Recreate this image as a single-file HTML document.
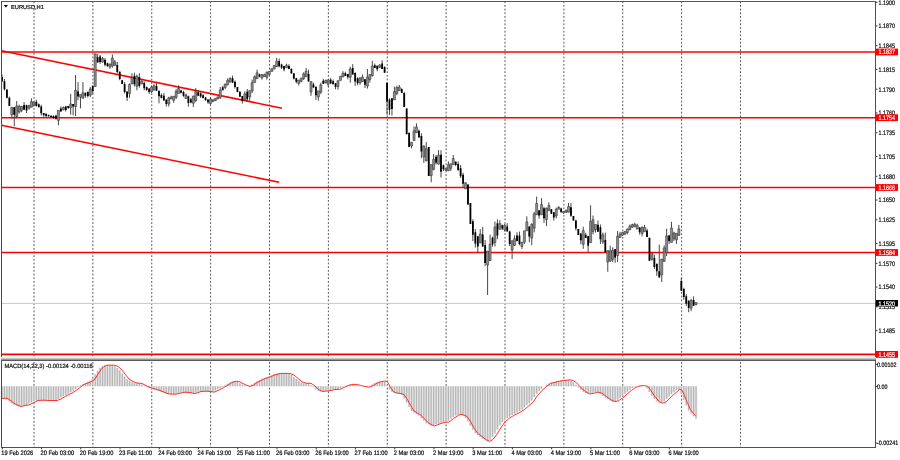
<!DOCTYPE html>
<html><head><meta charset="utf-8"><title>EURUSD,H1</title><style>html,body{margin:0;padding:0;background:#fff;overflow:hidden;width:900px;height:460px}svg{display:block}</style></head><body>
<svg width="900" height="460" viewBox="0 0 900 460" text-rendering="geometricPrecision"><rect width="900" height="460" fill="#fff"/><path d="M34 1.3V447M92.88 1.3V447M151.75 1.3V447M210.62 1.3V447M269.5 1.3V447M328.38 1.3V447M387.25 1.3V447M446.12 1.3V447M505 1.3V447M563.88 1.3V447M622.75 1.3V447M681.62 1.3V447M740.5 1.3V447" stroke="#555" stroke-width="1" stroke-dasharray="1.84 1.84" fill="none"/>
<path d="M2 386.3V398.34M4.45 386.3V398.21M6.91 386.3V399.61M9.36 386.3V401.51M11.81 386.3V403.29M14.26 386.3V404.82M16.71 386.3V405.81M19.17 386.3V406.35M21.62 386.3V405.73M24.07 386.3V405.31M26.53 386.3V405M28.98 386.3V403.79M31.43 386.3V402.56M33.88 386.3V401.33M36.34 386.3V400.45M38.79 386.3V400.31M41.24 386.3V400.23M43.69 386.3V400.33M46.15 386.3V400.44M48.6 386.3V400.5M51.05 386.3V400.5M53.5 386.3V400.5M55.96 386.3V399.97M58.41 386.3V399.05M60.86 386.3V397.61M63.31 386.3V396.14M65.77 386.3V394.89M68.22 386.3V393.67M70.67 386.3V392.3M73.12 386.3V390.77M75.58 386.3V388.98M78.03 386.3V387.14M80.48 386.3V385.3M82.93 386.3V383.95M85.39 386.3V382.96M87.84 386.3V381.86M90.29 386.3V380.63M92.74 386.3V378.68M95.2 386.3V374.59M97.65 386.3V370.85M100.1 386.3V367.95M102.55 386.3V366.06M105.01 386.3V365.2M107.46 386.3V365.2M109.91 386.3V365.2M112.36 386.3V365.2M114.82 386.3V366.18M117.27 386.3V367.93M119.72 386.3V370.47M122.17 386.3V373.53M124.62 386.3V376.6M127.08 386.3V379.33M129.53 386.3V380.86M131.98 386.3V382.04M134.44 386.3V382.96M136.89 386.3V383.23M139.34 386.3V383.48M141.79 386.3V384.62M144.25 386.3V385.85M146.7 386.3V387.07M149.15 386.3V387.98M151.6 386.3V388.72M154.06 386.3V389.45M156.51 386.3V390.19M158.96 386.3V391.06M161.41 386.3V392.05M163.87 386.3V392.99M166.32 386.3V393.91M168.77 386.3V394.06M171.22 386.3V394.13M173.68 386.3V394.17M176.13 386.3V393.56M178.58 386.3V392.99M181.03 386.3V392.5M183.49 386.3V392.26M185.94 386.3V392.4M188.39 386.3V392.71M190.84 386.3V393.32M193.3 386.3V393.21M195.75 386.3V392.55M198.2 386.3V391.63M200.65 386.3V391.37M203.11 386.3V391.23M205.56 386.3V391.32M208.01 386.3V391.47M210.46 386.3V391.95M212.92 386.3V391.62M215.37 386.3V390.58M217.82 386.3V389.36M220.27 386.3V388.14M222.73 386.3V386.69M225.18 386.3V385.22M227.63 386.3V383.7M230.08 386.3V382.33M232.54 386.3V381.53M234.99 386.3V381.34M237.44 386.3V381.95M239.89 386.3V383.17M242.34 386.3V384.4M244.8 386.3V385.57M249.7 386.3V385.73M252.16 386.3V384.29M254.61 386.3V382.47M257.06 386.3V381.24M259.51 386.3V380.02M261.97 386.3V378.79M264.42 386.3V377.94M266.87 386.3V377.2M269.32 386.3V376.22M271.78 386.3V375.14M274.23 386.3V374.36M276.68 386.3V373.73M279.13 386.3V373.44M281.59 386.3V373.34M284.04 386.3V373.36M286.49 386.3V373.46M288.94 386.3V374.02M291.4 386.3V374.94M293.85 386.3V377.01M296.3 386.3V379.12M298.75 386.3V381.14M301.21 386.3V382.38M303.66 386.3V383.2M306.11 386.3V383.25M308.56 386.3V383.31M311.02 386.3V384.97M313.47 386.3V386.92M315.92 386.3V389.37M318.37 386.3V390.68M320.82 386.3V391.47M323.28 386.3V391.16M325.73 386.3V390.85M328.18 386.3V390.55M330.63 386.3V389.98M333.09 386.3V389.48M335.54 386.3V389.38M337.99 386.3V389.09M340.44 386.3V387.95M342.9 386.3V386.85M345.35 386.3V385.79M347.8 386.3V385M350.25 386.3V384.37M352.71 386.3V384.4M355.16 386.3V384.56M357.61 386.3V385.24M360.06 386.3V385.89M364.97 386.3V386.87M367.42 386.3V386.89M369.88 386.3V386M372.33 386.3V384.56M374.78 386.3V383.11M377.23 386.3V382.2M379.69 386.3V381.45M382.14 386.3V381M384.59 386.3V381.54M387.04 386.3V385.58M389.5 386.3V389.39M391.95 386.3V391.95M394.4 386.3V393.04M396.85 386.3V393.32M399.31 386.3V393.79M401.76 386.3V394.76M404.21 386.3V398.4M406.66 386.3V402.62M409.12 386.3V406.96M411.57 386.3V410.98M414.02 386.3V412.54M416.47 386.3V414.05M418.93 386.3V415.6M421.38 386.3V418.2M423.83 386.3V420.68M426.28 386.3V423.14M428.74 386.3V424.42M431.19 386.3V425.63M433.64 386.3V425.34M436.09 386.3V424.37M438.55 386.3V423.51M441 386.3V422.8M443.45 386.3V422.2M445.9 386.3V422.2M448.36 386.3V420.68M450.81 386.3V418.83M453.26 386.3V417.13M455.71 386.3V415.44M458.17 386.3V414.67M460.62 386.3V414.77M463.07 386.3V415.69M465.52 386.3V417.93M467.98 386.3V421.44M470.43 386.3V425.78M472.88 386.3V429.83M475.33 386.3V433.34M477.79 386.3V435.19M480.24 386.3V437.04M482.69 386.3V438.88M485.14 386.3V440.36M487.6 386.3V441.15M490.05 386.3V439.71M492.5 386.3V436.87M494.95 386.3V433.47M497.41 386.3V429.51M499.86 386.3V425.59M502.31 386.3V422.37M504.76 386.3V420.02M507.22 386.3V417.9M509.67 386.3V416.44M512.12 386.3V415.06M514.57 386.3V413.84M517.02 386.3V412.57M519.48 386.3V411.1M521.93 386.3V409.63M524.38 386.3V407.52M526.84 386.3V405.37M529.29 386.3V403.25M531.74 386.3V400.55M534.19 386.3V396.84M536.64 386.3V393.73M539.1 386.3V391M541.55 386.3V388.73M546.46 386.3V384.74M548.91 386.3V383.23M551.36 386.3V382.6M553.81 386.3V381.98M556.26 386.3V381.35M558.72 386.3V380.9M561.17 386.3V380.51M563.62 386.3V380.28M566.08 386.3V380.01M568.53 386.3V380.01M570.98 386.3V380.68M573.43 386.3V382.34M575.88 386.3V384.72M578.34 386.3V387.45M580.79 386.3V389.69M583.24 386.3V391.76M585.7 386.3V393.1M588.15 386.3V393.86M590.6 386.3V393.42M593.05 386.3V392.8M595.5 386.3V392.19M597.96 386.3V392.8M600.41 386.3V393.86M602.86 386.3V395.74M605.32 386.3V397.57M607.77 386.3V399.35M610.22 386.3V400.57M612.67 386.3V401.57M615.12 386.3V400.98M617.58 386.3V399.71M620.03 386.3V398.17M622.48 386.3V396.08M624.94 386.3V393.96M627.39 386.3V391.79M629.84 386.3V389.8M632.29 386.3V388.07M634.75 386.3V386.88M639.65 386.3V385.75M642.1 386.3V385.64M647.01 386.3V388.58M649.46 386.3V392.03M651.91 386.3V395.74M654.37 386.3V398.8M656.82 386.3V401.53M659.27 386.3V402.74M661.72 386.3V402.69M664.18 386.3V401.27M666.63 386.3V398.82M669.08 386.3V396.55M671.53 386.3V394.35M673.99 386.3V392.21M676.44 386.3V389.97M678.89 386.3V389.95M681.34 386.3V394.08M683.8 386.3V399.76M686.25 386.3V405.55M688.7 386.3V410.41M691.15 386.3V413.52M693.61 386.3V416.14M696.06 386.3V418.8" stroke="#e6e6e6" stroke-width="2.46" fill="none"/>
<path d="M2 386.3V398.34M4.45 386.3V398.21M6.91 386.3V399.61M9.36 386.3V401.51M11.81 386.3V403.29M14.26 386.3V404.82M16.71 386.3V405.81M19.17 386.3V406.35M21.62 386.3V405.73M24.07 386.3V405.31M26.53 386.3V405M28.98 386.3V403.79M31.43 386.3V402.56M33.88 386.3V401.33M36.34 386.3V400.45M38.79 386.3V400.31M41.24 386.3V400.23M43.69 386.3V400.33M46.15 386.3V400.44M48.6 386.3V400.5M51.05 386.3V400.5M53.5 386.3V400.5M55.96 386.3V399.97M58.41 386.3V399.05M60.86 386.3V397.61M63.31 386.3V396.14M65.77 386.3V394.89M68.22 386.3V393.67M70.67 386.3V392.3M73.12 386.3V390.77M75.58 386.3V388.98M78.03 386.3V387.14M80.48 386.3V385.3M82.93 386.3V383.95M85.39 386.3V382.96M87.84 386.3V381.86M90.29 386.3V380.63M92.74 386.3V378.68M95.2 386.3V374.59M97.65 386.3V370.85M100.1 386.3V367.95M102.55 386.3V366.06M105.01 386.3V365.2M107.46 386.3V365.2M109.91 386.3V365.2M112.36 386.3V365.2M114.82 386.3V366.18M117.27 386.3V367.93M119.72 386.3V370.47M122.17 386.3V373.53M124.62 386.3V376.6M127.08 386.3V379.33M129.53 386.3V380.86M131.98 386.3V382.04M134.44 386.3V382.96M136.89 386.3V383.23M139.34 386.3V383.48M141.79 386.3V384.62M144.25 386.3V385.85M146.7 386.3V387.07M149.15 386.3V387.98M151.6 386.3V388.72M154.06 386.3V389.45M156.51 386.3V390.19M158.96 386.3V391.06M161.41 386.3V392.05M163.87 386.3V392.99M166.32 386.3V393.91M168.77 386.3V394.06M171.22 386.3V394.13M173.68 386.3V394.17M176.13 386.3V393.56M178.58 386.3V392.99M181.03 386.3V392.5M183.49 386.3V392.26M185.94 386.3V392.4M188.39 386.3V392.71M190.84 386.3V393.32M193.3 386.3V393.21M195.75 386.3V392.55M198.2 386.3V391.63M200.65 386.3V391.37M203.11 386.3V391.23M205.56 386.3V391.32M208.01 386.3V391.47M210.46 386.3V391.95M212.92 386.3V391.62M215.37 386.3V390.58M217.82 386.3V389.36M220.27 386.3V388.14M222.73 386.3V386.69M225.18 386.3V385.22M227.63 386.3V383.7M230.08 386.3V382.33M232.54 386.3V381.53M234.99 386.3V381.34M237.44 386.3V381.95M239.89 386.3V383.17M242.34 386.3V384.4M244.8 386.3V385.57M249.7 386.3V385.73M252.16 386.3V384.29M254.61 386.3V382.47M257.06 386.3V381.24M259.51 386.3V380.02M261.97 386.3V378.79M264.42 386.3V377.94M266.87 386.3V377.2M269.32 386.3V376.22M271.78 386.3V375.14M274.23 386.3V374.36M276.68 386.3V373.73M279.13 386.3V373.44M281.59 386.3V373.34M284.04 386.3V373.36M286.49 386.3V373.46M288.94 386.3V374.02M291.4 386.3V374.94M293.85 386.3V377.01M296.3 386.3V379.12M298.75 386.3V381.14M301.21 386.3V382.38M303.66 386.3V383.2M306.11 386.3V383.25M308.56 386.3V383.31M311.02 386.3V384.97M313.47 386.3V386.92M315.92 386.3V389.37M318.37 386.3V390.68M320.82 386.3V391.47M323.28 386.3V391.16M325.73 386.3V390.85M328.18 386.3V390.55M330.63 386.3V389.98M333.09 386.3V389.48M335.54 386.3V389.38M337.99 386.3V389.09M340.44 386.3V387.95M342.9 386.3V386.85M345.35 386.3V385.79M347.8 386.3V385M350.25 386.3V384.37M352.71 386.3V384.4M355.16 386.3V384.56M357.61 386.3V385.24M360.06 386.3V385.89M364.97 386.3V386.87M367.42 386.3V386.89M369.88 386.3V386M372.33 386.3V384.56M374.78 386.3V383.11M377.23 386.3V382.2M379.69 386.3V381.45M382.14 386.3V381M384.59 386.3V381.54M387.04 386.3V385.58M389.5 386.3V389.39M391.95 386.3V391.95M394.4 386.3V393.04M396.85 386.3V393.32M399.31 386.3V393.79M401.76 386.3V394.76M404.21 386.3V398.4M406.66 386.3V402.62M409.12 386.3V406.96M411.57 386.3V410.98M414.02 386.3V412.54M416.47 386.3V414.05M418.93 386.3V415.6M421.38 386.3V418.2M423.83 386.3V420.68M426.28 386.3V423.14M428.74 386.3V424.42M431.19 386.3V425.63M433.64 386.3V425.34M436.09 386.3V424.37M438.55 386.3V423.51M441 386.3V422.8M443.45 386.3V422.2M445.9 386.3V422.2M448.36 386.3V420.68M450.81 386.3V418.83M453.26 386.3V417.13M455.71 386.3V415.44M458.17 386.3V414.67M460.62 386.3V414.77M463.07 386.3V415.69M465.52 386.3V417.93M467.98 386.3V421.44M470.43 386.3V425.78M472.88 386.3V429.83M475.33 386.3V433.34M477.79 386.3V435.19M480.24 386.3V437.04M482.69 386.3V438.88M485.14 386.3V440.36M487.6 386.3V441.15M490.05 386.3V439.71M492.5 386.3V436.87M494.95 386.3V433.47M497.41 386.3V429.51M499.86 386.3V425.59M502.31 386.3V422.37M504.76 386.3V420.02M507.22 386.3V417.9M509.67 386.3V416.44M512.12 386.3V415.06M514.57 386.3V413.84M517.02 386.3V412.57M519.48 386.3V411.1M521.93 386.3V409.63M524.38 386.3V407.52M526.84 386.3V405.37M529.29 386.3V403.25M531.74 386.3V400.55M534.19 386.3V396.84M536.64 386.3V393.73M539.1 386.3V391M541.55 386.3V388.73M546.46 386.3V384.74M548.91 386.3V383.23M551.36 386.3V382.6M553.81 386.3V381.98M556.26 386.3V381.35M558.72 386.3V380.9M561.17 386.3V380.51M563.62 386.3V380.28M566.08 386.3V380.01M568.53 386.3V380.01M570.98 386.3V380.68M573.43 386.3V382.34M575.88 386.3V384.72M578.34 386.3V387.45M580.79 386.3V389.69M583.24 386.3V391.76M585.7 386.3V393.1M588.15 386.3V393.86M590.6 386.3V393.42M593.05 386.3V392.8M595.5 386.3V392.19M597.96 386.3V392.8M600.41 386.3V393.86M602.86 386.3V395.74M605.32 386.3V397.57M607.77 386.3V399.35M610.22 386.3V400.57M612.67 386.3V401.57M615.12 386.3V400.98M617.58 386.3V399.71M620.03 386.3V398.17M622.48 386.3V396.08M624.94 386.3V393.96M627.39 386.3V391.79M629.84 386.3V389.8M632.29 386.3V388.07M634.75 386.3V386.88M639.65 386.3V385.75M642.1 386.3V385.64M647.01 386.3V388.58M649.46 386.3V392.03M651.91 386.3V395.74M654.37 386.3V398.8M656.82 386.3V401.53M659.27 386.3V402.74M661.72 386.3V402.69M664.18 386.3V401.27M666.63 386.3V398.82M669.08 386.3V396.55M671.53 386.3V394.35M673.99 386.3V392.21M676.44 386.3V389.97M678.89 386.3V389.95M681.34 386.3V394.08M683.8 386.3V399.76M686.25 386.3V405.55M688.7 386.3V410.41M691.15 386.3V413.52M693.61 386.3V416.14M696.06 386.3V418.8" stroke="#b6b6b6" stroke-width="1.25" fill="none"/>
<path d="M1.5 398.5 L7 398.2 L10 400 L13 402.5 L17 405 L21 406.5 L25 405.5 L29 405 L33 403 L38 400.5 L43 400.2 L50 400.5 L57 400.5 L61 399 L66 396 L72 393 L76 390.5 L80 387.5 L84 384.5 L89 382.5 L93 380.5 L95 379 L98 374 L101 369.5 L104 366.5 L107 365.2 L111 365.2 L115 365.2 L118 366.5 L121 369 L125 374 L129 379 L133 381.5 L137 383 L142 383.5 L146 385.5 L150 387.5 L155 389 L160 390.5 L165 392.5 L169 394 L176 394.2 L180 393.2 L185 392.2 L190 392.5 L194 393.5 L197 393 L201 391.5 L206 391.2 L211 391.5 L214 392.2 L218 390.5 L223 388 L228 385 L232 382.5 L236 381.2 L239 381.5 L243 383.5 L247 385.5 L250 386.3 L253 385.5 L257 382.5 L260 381 L265 378.5 L270 377 L275 374.8 L280 373.5 L285 373.3 L290 373.5 L294 375 L298 378.5 L302 381.8 L306 383.2 L311 383.3 L315 386 L319 390 L323 391.5 L327 391 L331 390.5 L335 389.5 L340 389.3 L344.3 387.3 L348.7 385.4 L353 384.3 L357.4 384.5 L361.7 385.7 L366.1 386.7 L369.3 387.1 L372.6 385.9 L377 383.2 L381.3 381.6 L384.6 381 L387.3 381.6 L390 386.5 L393.3 391.4 L396.5 393 L400.9 393.5 L404.1 394.6 L407.4 399.5 L410.7 405.5 L413.9 410.9 L418.3 413.7 L421 415.2 L424.4 418.8 L428.9 423.3 L434.4 426 L440 423.8 L445.5 422.2 L448.8 422.2 L453.3 418.8 L458.8 415 L462.1 414.4 L466.6 416.1 L469.9 420.5 L474.3 428.3 L477.6 433.2 L482.1 436.6 L486.5 439.9 L489.8 441.3 L493.2 439.3 L497.6 433.2 L502 426 L505.2 421.8 L509.5 418 L513.7 415.5 L519.1 412.8 L524.6 409.5 L528.9 405.7 L533.3 401.9 L537.6 395.4 L542 390.5 L546.3 386.7 L550.7 383.4 L555 382.3 L559.3 381.2 L563.7 380.5 L567 380.2 L570.2 379.8 L573.5 380.7 L576.7 382.9 L581.1 387.8 L585.4 391.6 L589.8 394 L594.3 393.2 L597.6 392.1 L602 393.2 L606.3 396.5 L610.7 399.7 L615 401.6 L618.3 400.8 L622.6 398.1 L627 394.3 L631.3 390.5 L635.7 387.4 L640 385.9 L644.3 385.6 L647.6 386.1 L650.9 390.5 L655.2 397 L659.6 401.9 L662.9 403.2 L665.9 402 L669.8 398.1 L673.7 394.6 L677.6 391.2 L679.6 389.3 L682 390.2 L684.5 395.6 L687.4 402.5 L690.3 409.3 L693.3 413.2 L695.7 415.7" stroke="#ff3030" stroke-width="1" fill="none" stroke-linejoin="round"/>
<path d="M1.5 52H875.5" stroke="#ff0000" stroke-width="1.6" fill="none"/>
<path d="M1.5 117.7H875.5" stroke="#ff0000" stroke-width="1.6" fill="none"/>
<path d="M1.5 187.5H875.5" stroke="#ff0000" stroke-width="1.6" fill="none"/>
<path d="M1.5 252.5H875.5" stroke="#ff0000" stroke-width="1.6" fill="none"/>
<path d="M1.5 354.4H875.5" stroke="#ff0000" stroke-width="1.6" fill="none"/>
<path d="M1.5 50.7L282 108.2" stroke="#ff0000" stroke-width="1.6" fill="none"/>
<path d="M1.5 125.2L279.2 182.3" stroke="#ff0000" stroke-width="1.6" fill="none"/>
<path d="M1.5 303.4H875.5" stroke="#c8c8c8" stroke-width="1" fill="none"/>
<path d="M2 74.5V81.4M4.45 78.9V90.3M6.91 89.6V98.4M9.36 96.6V106M11.81 107.3V118.6M14.26 107.3V126.2M16.71 101V118M19.17 104.7V113.6M21.62 106V112.3M24.07 102.2V109.8M26.53 104.7V113M28.98 105.4V109.8M31.43 98.4V107.3M33.88 101.6V106.6M36.34 99.7V106.6M38.79 103.5V107.3M41.24 104.7V115.5M43.69 113V116.7M46.15 113V116.7M48.6 114.7V116.6M51.05 115.3V117.9M53.5 115.3V118.5M55.96 114.7V119.7M58.41 110.3V125.4M60.86 106.5V111.6M63.31 106.5V110.3M65.77 105.9V111.6M68.22 105.9V109M70.67 93.9V114.7M73.12 104V115.3M75.58 75V116M78.03 82V100.2M80.48 94.6V108.4M82.93 82V98.3M85.39 92.7V97.7M87.84 91.4V97.7M90.29 87V97M92.74 85.7V93.9M95.2 53.8V86.5M97.65 53.8V62.6M100.1 55V63.9M102.55 56.9V62.6M105.01 58.2V66.4M107.46 62.6V67M109.91 63.9V68.9M112.36 54.4V67.6M114.82 60V65.7M117.27 62V73.3M119.72 71.4V80.2M122.17 80.2V84M124.62 82.1V93.5M127.08 91.6V101M129.53 83.4V97.9M131.98 73.3V84M134.44 72.7V86.5M136.89 74.6V90.3M139.34 73.3V87.8M141.79 80.2V84M144.25 81.5V90.3M146.7 86.5V90.8M149.15 88.6V94M151.6 85.4V93M154.06 84.3V90.8M156.51 83.2V90.8M158.96 90.8V103.3M161.41 93.5V98.4M163.87 93V100.6M166.32 99.5V106.6M168.77 96.8V106.6M171.22 95.7V99M173.68 96.2V102.8M176.13 89.2V99M178.58 85.4V93.5M181.03 89.7V93.5M183.49 90.8V96.8M185.94 93.5V98.4M188.39 95.7V106.6M190.84 97.9V103.3M193.3 95.7V107.1M195.75 88.1V102.2M198.2 90.3V95.7M200.65 92.4V97.9M203.11 94.1V98.4M205.56 96.8V100.6M208.01 99.5V103.8M210.46 97.9V104.9M212.92 99.5V102.2M215.37 97.9V101.1M217.82 96.8V99.5M220.27 87V99M222.73 85.9V90.3M225.18 83.7V89.2M227.63 78.3V85.4M230.08 77.2V82.7M232.54 75.6V82.7M234.99 80.5V88.6M237.44 87V92.4M239.89 91.3V96.8M242.34 96V103.6M244.8 91.3V100.7M247.25 89V101.3M249.7 90.7V100.7M252.16 79.6V93.1M254.61 75.5V82.5M257.06 69.6V79M259.51 73.7V77.2M261.97 74.3V79.6M264.42 73.7V76.6M266.87 71.4V79.6M269.32 70.8V75.5M271.78 68.4V71.4M274.23 65.5V69.6M276.68 57.9V66.7M279.13 58.5V67.3M281.59 63.7V69M284.04 66.1V71.4M286.49 63.7V67.8M288.94 64.2V69.1M291.4 68.6V73.5M293.85 72.9V79.5M296.3 77.8V83.3M298.75 80V85.4M301.21 77.8V82.2M303.66 72.4V80M306.11 68V76.7M308.56 69.7V81.6M311.02 81.6V95.8M313.47 82.7V87.6M315.92 86.5V100.1M318.37 90.9V100.7M320.82 82.7V94.1M323.28 78.9V83.8M325.73 79.5V83.3M328.18 79.5V86.5M330.63 77.8V83.8M333.09 79.5V84.3M335.54 83.3V89.2M337.99 80.4V89.7M340.44 76.1V80.4M342.9 71.2V77.2M345.35 71.7V76.1M347.8 73.9V79.3M350.25 66.8V82.6M352.71 64.1V74.5M355.16 72.3V85.9M357.61 77.2V85.3M360.06 77.2V84.8M362.52 74.5V81.5M364.97 79.3V88M367.42 69V88.6M369.88 74.5V82.6M372.33 60.9V76.6M374.78 63.6V67.9M377.23 65.8V71.2M379.69 64.1V67.9M382.14 60.3V69M384.59 66.3V72.8M387.04 82.7V114.8M389.5 98.3V114.8M391.95 98.3V115.6M394.4 86.6V99.9M396.85 85.8V95.2M399.31 85V90.5M401.76 88.2V92.9M404.21 92.1V107M406.66 108.5V134.3M409.12 132.8V146.9M411.57 142.2V148.4M414.02 126.5V140.6M416.47 123.4V132.8M418.93 129.6V137.5M421.38 133.3V158.2M423.83 145.3V163M426.28 142.1V161.4M428.74 146.9V175.9M431.19 164.6V182.3M433.64 154.2V170.3M436.09 155V164.6M438.55 150.2V164.6M441 150.2V177.5M443.45 164.6V171.1M445.9 168.6V171.1M448.36 161.4V171.1M450.81 163.8V171.1M453.26 155V164.6M455.71 161.4V166.2M458.17 161.4V171.1M460.62 165V178M463.07 172.7V187.1M465.52 182.3V189M467.98 184.4V204.6M470.43 203V224M472.88 219.3V241.1M475.33 229.1V247.6M477.79 236.2V253M480.24 229.1V243.3M482.69 227V246.5M485.14 240V266M487.6 251V295M490.05 234.6V260.7M492.5 236.7V246.5M494.95 221.5V246.5M497.41 219.4V239.2M499.86 220.2V229.3M502.31 224.7V230M504.76 224V231.6M507.22 223.2V231.6M509.67 230.8V246M512.12 240.7V259M514.57 235.4V246M517.02 232.3V241.5M519.48 231.6V245.3M521.93 242.2V249.1M524.38 230.8V243.8M526.84 216.4V230.8M529.29 226.2V242.2M531.74 223.2V245.3M534.19 211.8V232.3M536.64 196.6V214.8M539.1 210.3V218.6M541.55 198.1V214.8M544 206.9V222.9M546.46 207.7V226M548.91 202.4V210.7M551.36 209.2V213.8M553.81 212.3V220.6M556.26 207.7V218.4M558.72 206.2V209.2M561.17 207.7V213M563.62 211.5V213.8M566.08 210V213M568.53 203.1V212.3M570.98 203.1V216.8M573.43 216.1V220.6M575.88 219.9V230.5M578.34 229V235.1M580.79 233.6V244.2M583.24 226.7V248.8M585.7 232.8V238.1M588.15 235.9V251.8M590.6 205.4V242.7M593.05 215.5V234.3M595.5 224.5V232.6M597.96 220.4V231.8M600.41 224.5V244M602.86 232.6V244M605.32 232.6V252.2M607.77 250.6V271.8M610.22 245.7V262M612.67 247.3V262M615.12 248.9V262.8M617.58 231V262M620.03 231.8V237.5M622.48 231.8V235.9M624.94 231V235.1M627.39 228.5V234.3M629.84 224.5V230.2M632.29 223.7V227.7M634.75 222.8V226.9M637.2 223.7V229.4M639.65 227V234.6M642.1 226.4V236.3M644.56 224.9V231.7M647.01 228.7V237.1M649.46 237.8V260.7M651.91 253V260.7M654.37 254.6V269M656.82 263.7V275.9M659.27 244.7V277.4M661.72 259.1V282M664.18 245.4V261.4M666.63 228.7V256.1M669.08 234.8V243.9M671.53 221.8V242.4M673.99 231.7V240.9M676.44 233.3V243.9M678.89 224.9V235.5M681.34 277.7V290.7M683.8 287.8V299.8M686.25 294V306M688.7 300.2V312.2M691.15 298.8V311.2M693.61 296.4V306M696.06 302.6V305.5" stroke="#333" stroke-width="0.9" fill="none"/>
<path d="M10.76 107.3h2.1V114.85h-2.1ZM15.66 105.95h2.1V116.49h-2.1ZM18.12 106.48h2.1V112h-2.1ZM20.57 106.41h2.1V110.32h-2.1ZM27.93 105.4h2.1V108.22h-2.1ZM30.38 101.68h2.1V107.2h-2.1ZM32.83 102h2.1V105.1h-2.1ZM57.36 110.3h2.1V120.4h-2.1ZM62.26 107.47h2.1V109.83h-2.1ZM69.62 104h2.1V107.8h-2.1ZM74.53 90.2h2.1V106.5h-2.1ZM79.43 94.6h2.1V97.1h-2.1ZM81.88 92.7h2.1V98.3h-2.1ZM89.24 88.99h2.1V95.19h-2.1ZM94.15 53.8h2.1V86.5h-2.1ZM101.5 58.55h2.1V62.08h-2.1ZM108.86 63.9h2.1V67h-2.1ZM111.31 58h2.1V66h-2.1ZM113.77 61.82h2.1V65.35h-2.1ZM128.48 84.57h2.1V93.56h-2.1ZM130.93 77.37h2.1V84h-2.1ZM135.84 76.4h2.1V86.13h-2.1ZM140.74 81.32h2.1V84h-2.1ZM150.55 86.96h2.1V91.67h-2.1ZM153 85.81h2.1V89.84h-2.1ZM167.72 97.91h2.1V103.99h-2.1ZM170.17 96.95h2.1V99h-2.1ZM172.62 96.2h2.1V100.29h-2.1ZM175.08 91.25h2.1V97.33h-2.1ZM177.53 88.48h2.1V93.5h-2.1ZM184.89 94.88h2.1V98.4h-2.1ZM192.25 96.1h2.1V103.17h-2.1ZM194.7 91.8h2.1V100.55h-2.1ZM209.41 99.16h2.1V103.5h-2.1ZM211.87 99.81h2.1V101.49h-2.1ZM214.32 98.51h2.1V100.49h-2.1ZM216.77 96.8h2.1V98.83h-2.1ZM219.22 89.95h2.1V97.39h-2.1ZM224.13 84.01h2.1V87.42h-2.1ZM226.58 80.32h2.1V84.73h-2.1ZM229.03 78.52h2.1V81.93h-2.1ZM243.75 93.82h2.1V99.65h-2.1ZM248.65 90.7h2.1V96.9h-2.1ZM251.1 82.66h2.1V91.03h-2.1ZM253.56 76.65h2.1V82.5h-2.1ZM256.01 72.85h2.1V78.68h-2.1ZM260.92 74.48h2.1V77.77h-2.1ZM263.37 74.79h2.1V76.59h-2.1ZM265.82 72.28h2.1V77.37h-2.1ZM268.27 71.47h2.1V74.38h-2.1ZM270.73 68.72h2.1V71.4h-2.1ZM273.18 65.5h2.1V68.72h-2.1ZM275.63 61.24h2.1V66.7h-2.1ZM285.44 65.26h2.1V67.8h-2.1ZM297.7 80h2.1V83.35h-2.1ZM300.16 78.1h2.1V81.35h-2.1ZM302.61 73.83h2.1V78.54h-2.1ZM305.06 71.31h2.1V76.7h-2.1ZM309.97 81.6h2.1V92h-2.1ZM317.32 90.9h2.1V96.98h-2.1ZM319.77 84.88h2.1V92.1h-2.1ZM324.68 80.61h2.1V82.97h-2.1ZM327.13 79.88h2.1V84.22h-2.1ZM336.94 80.77h2.1V86.53h-2.1ZM339.39 76.22h2.1V80.4h-2.1ZM341.85 73.28h2.1V77h-2.1ZM349.2 69h2.1V77.2h-2.1ZM359.01 77.96h2.1V82.67h-2.1ZM361.47 77.16h2.1V81.5h-2.1ZM366.37 77h2.1V86h-2.1ZM368.82 74.5h2.1V79.52h-2.1ZM371.28 66.01h2.1V75.74h-2.1ZM378.63 65.11h2.1V67.47h-2.1ZM393.35 91.65h2.1V99.9h-2.1ZM395.8 87.59h2.1V93.41h-2.1ZM398.25 87.09h2.1V90.5h-2.1ZM410.52 142.2h2.1V146.04h-2.1ZM412.97 130.83h2.1V140.6h-2.1ZM415.42 126.97h2.1V132.8h-2.1ZM422.78 145.96h2.1V156.94h-2.1ZM425.23 148.78h2.1V160.75h-2.1ZM430.14 164.6h2.1V175.57h-2.1ZM432.59 159.45h2.1V169.43h-2.1ZM437.5 155.15h2.1V164.08h-2.1ZM444.85 168.6h2.1V170.15h-2.1ZM447.31 164.72h2.1V170.73h-2.1ZM449.76 163.8h2.1V168.33h-2.1ZM452.21 158.65h2.1V164.6h-2.1ZM464.47 182.77h2.1V189h-2.1ZM479.19 234.04h2.1V242.84h-2.1ZM486.55 251h2.1V265h-2.1ZM489 244.38h2.1V260.57h-2.1ZM493.9 226.98h2.1V242.48h-2.1ZM498.81 223.66h2.1V229.3h-2.1ZM503.71 225.23h2.1V229.94h-2.1ZM511.07 240.7h2.1V250h-2.1ZM513.52 238.75h2.1V245.32h-2.1ZM520.88 242.2h2.1V246.48h-2.1ZM523.33 230.8h2.1V242.2h-2.1ZM525.79 221.87h2.1V230.8h-2.1ZM530.69 224.34h2.1V238.04h-2.1ZM533.14 213.88h2.1V228.15h-2.1ZM535.6 203.52h2.1V214.8h-2.1ZM540.5 204.45h2.1V214.8h-2.1ZM545.41 208.11h2.1V219.46h-2.1ZM547.86 205.55h2.1V210.7h-2.1ZM555.22 209.25h2.1V215.88h-2.1ZM557.67 207.34h2.1V209.2h-2.1ZM562.57 211.5h2.1V212.93h-2.1ZM565.03 210h2.1V212.07h-2.1ZM567.48 206.56h2.1V212.26h-2.1ZM582.19 230.61h2.1V244.31h-2.1ZM589.55 221.4h2.1V242.7h-2.1ZM592 219.77h2.1V231.43h-2.1ZM594.46 224.51h2.1V229.54h-2.1ZM601.81 234.78h2.1V241.85h-2.1ZM606.72 250.6h2.1V262h-2.1ZM609.17 250.83h2.1V260.94h-2.1ZM611.62 250.19h2.1V259.31h-2.1ZM616.53 236.26h2.1V255.49h-2.1ZM618.98 233.97h2.1V237.5h-2.1ZM621.43 232.58h2.1V235.12h-2.1ZM623.89 231.57h2.1V234.11h-2.1ZM626.34 229h2.1V232.6h-2.1ZM628.79 226.18h2.1V229.72h-2.1ZM631.24 224.66h2.1V227.14h-2.1ZM633.7 224.22h2.1V226.76h-2.1ZM636.15 225.42h2.1V228.95h-2.1ZM641.05 227.38h2.1V233.52h-2.1ZM643.51 227.48h2.1V231.7h-2.1ZM650.86 253.05h2.1V259.33h-2.1ZM660.67 259.1h2.1V275h-2.1ZM663.13 247.9h2.1V261.4h-2.1ZM665.58 235.89h2.1V252.88h-2.1ZM670.48 228h2.1V242.4h-2.1ZM672.94 232.97h2.1V238.68h-2.1ZM675.39 233.3h2.1V239.87h-2.1ZM677.84 228.93h2.1V235.5h-2.1ZM690.1 300.51h2.1V308.19h-2.1ZM695.01 302.6h2.1V304.4h-2.1Z" fill="#8c8c8c" stroke="#2a2a2a" stroke-width="0.5"/>
<path d="M1.1 77.12h1.8V81.4h-1.8ZM3.55 81.28h1.8V89.3h-1.8ZM6 89.6h1.8V97.65h-1.8ZM8.46 97.65h1.8V106h-1.8ZM13.36 107.3h1.8V114.8h-1.8ZM23.17 105.09h1.8V109.8h-1.8ZM25.63 105.25h1.8V110.4h-1.8ZM35.44 101.81h1.8V106.09h-1.8ZM37.89 104.28h1.8V107.3h-1.8ZM40.34 106.54h1.8V113.24h-1.8ZM42.79 113h1.8V115.29h-1.8ZM45.25 113.9h1.8V116.2h-1.8ZM47.7 115.1h1.8V116.28h-1.8ZM50.15 115.63h1.8V117.24h-1.8ZM52.6 115.91h1.8V117.89h-1.8ZM55.06 115.74h1.8V118.84h-1.8ZM59.96 108.44h1.8V111.6h-1.8ZM64.86 106.57h1.8V110.1h-1.8ZM67.32 105.9h1.8V108.1h-1.8ZM72.22 104h1.8V106.5h-1.8ZM77.13 91.4h1.8V96.4h-1.8ZM84.48 92.7h1.8V95.8h-1.8ZM86.94 92.12h1.8V96.03h-1.8ZM91.84 85.7h1.8V90.9h-1.8ZM96.75 57.14h1.8V62.6h-1.8ZM99.2 56.45h1.8V61.97h-1.8ZM104.11 59.75h1.8V64.83h-1.8ZM106.56 63.21h1.8V65.94h-1.8ZM116.37 64.98h1.8V71.99h-1.8ZM118.82 71.73h1.8V78.95h-1.8ZM121.27 80.2h1.8V84h-1.8ZM123.72 84h1.8V92.05h-1.8ZM126.18 91.6h1.8V97.43h-1.8ZM133.53 75.8h1.8V84.35h-1.8ZM138.44 76.92h1.8V85.91h-1.8ZM143.34 82.91h1.8V88.37h-1.8ZM145.8 87.28h1.8V89.97h-1.8ZM148.25 88.6h1.8V91.95h-1.8ZM155.61 86.09h1.8V90.8h-1.8ZM158.06 90.8h1.8V96.2h-1.8ZM160.51 94.92h1.8V97.96h-1.8ZM162.97 95.79h1.8V100.51h-1.8ZM165.42 99.5h1.8V103.9h-1.8ZM180.13 90.43h1.8V92.79h-1.8ZM182.59 91.93h1.8V95.65h-1.8ZM187.49 96.26h1.8V103.02h-1.8ZM189.94 99.26h1.8V102.61h-1.8ZM197.3 92.35h1.8V95.7h-1.8ZM199.75 93.18h1.8V96.59h-1.8ZM202.21 95.25h1.8V97.92h-1.8ZM204.66 97.47h1.8V100.17h-1.8ZM207.11 99.52h1.8V102.18h-1.8ZM221.83 87.28h1.8V90.3h-1.8ZM231.64 78.3h1.8V82.7h-1.8ZM234.09 81.85h1.8V87.12h-1.8ZM236.54 87.12h1.8V91.88h-1.8ZM238.99 91.87h1.8V96.8h-1.8ZM241.44 96h1.8V100.71h-1.8ZM246.35 91.69h1.8V99.31h-1.8ZM258.61 74.45h1.8V76.62h-1.8ZM278.23 60.88h1.8V66.34h-1.8ZM280.69 64.44h1.8V67.73h-1.8ZM283.14 66.1h1.8V69.39h-1.8ZM288.04 66.01h1.8V69.04h-1.8ZM290.5 68.85h1.8V73.5h-1.8ZM292.95 73.5h1.8V78.38h-1.8ZM295.4 78.3h1.8V81.7h-1.8ZM307.66 74h1.8V81.6h-1.8ZM312.57 84.56h1.8V87.6h-1.8ZM315.02 86.86h1.8V95.29h-1.8ZM322.38 80.76h1.8V83.8h-1.8ZM329.74 79.77h1.8V83.48h-1.8ZM332.19 81.22h1.8V84.2h-1.8ZM334.64 83.3h1.8V86.96h-1.8ZM344.45 73.29h1.8V76.01h-1.8ZM346.9 73.9h1.8V77.25h-1.8ZM351.81 68.05h1.8V74.5h-1.8ZM354.26 72.97h1.8V81.4h-1.8ZM356.71 78.14h1.8V83.16h-1.8ZM364.07 79.3h1.8V84.69h-1.8ZM373.88 65.23h1.8V67.9h-1.8ZM376.33 65.8h1.8V69.15h-1.8ZM381.24 63.52h1.8V68.91h-1.8ZM383.69 67.1h1.8V72.8h-1.8ZM386.14 82.7h1.8V101.5h-1.8ZM388.6 99.59h1.8V109.81h-1.8ZM391.05 98.3h1.8V109.03h-1.8ZM400.86 89.15h1.8V92.9h-1.8ZM403.31 92.9h1.8V107h-1.8ZM405.76 108.5h1.8V134.3h-1.8ZM408.22 132.8h1.8V146.9h-1.8ZM418.03 130.83h1.8V137.5h-1.8ZM420.48 136.01h1.8V151.44h-1.8ZM427.84 147h1.8V175.9h-1.8ZM435.19 156.84h1.8V162.79h-1.8ZM440.1 154.77h1.8V171.7h-1.8ZM442.55 165.34h1.8V169.36h-1.8ZM454.81 161.8h1.8V165.03h-1.8ZM457.27 163.94h1.8V169.96h-1.8ZM459.72 168.26h1.8V176.32h-1.8ZM462.17 174.77h1.8V183.7h-1.8ZM467.08 184.4h1.8V204.6h-1.8ZM469.53 203h1.8V224h-1.8ZM471.98 221.3h1.8V234.82h-1.8ZM474.43 232.14h1.8V243.61h-1.8ZM476.89 236.2h1.8V246.62h-1.8ZM481.79 234.41h1.8V246.5h-1.8ZM484.24 244.88h1.8V263h-1.8ZM491.6 237.8h1.8V244.62h-1.8ZM496.51 223.2h1.8V235.48h-1.8ZM501.41 225.17h1.8V228.46h-1.8ZM506.32 226.39h1.8V231.6h-1.8ZM508.77 231.6h1.8V244.12h-1.8ZM516.12 235.39h1.8V241.09h-1.8ZM518.58 235.62h1.8V244.11h-1.8ZM528.39 226.6h1.8V236.52h-1.8ZM538.2 210.3h1.8V215.45h-1.8ZM543.1 208.31h1.8V218.24h-1.8ZM550.46 209.2h1.8V213.8h-1.8ZM552.91 212.3h1.8V217.45h-1.8ZM560.27 208.62h1.8V211.91h-1.8ZM570.08 207.24h1.8V215.73h-1.8ZM572.53 216.1h1.8V220.6h-1.8ZM574.99 220.6h1.8V228.62h-1.8ZM577.44 229h1.8V235.1h-1.8ZM579.89 233.6h1.8V240.17h-1.8ZM584.8 234.81h1.8V238.1h-1.8ZM587.25 235.9h1.8V245.76h-1.8ZM597.06 224.73h1.8V231.8h-1.8ZM599.51 227.18h1.8V239.27h-1.8ZM604.42 240h1.8V252.15h-1.8ZM614.23 248.9h1.8V257.52h-1.8ZM638.75 227.52h1.8V232.23h-1.8ZM646.11 230.6h1.8V237.1h-1.8ZM648.56 237.8h1.8V260.7h-1.8ZM653.47 258.1h1.8V267.03h-1.8ZM655.92 263.7h1.8V271.26h-1.8ZM658.37 271.3h1.8V277.4h-1.8ZM668.18 235.48h1.8V241.12h-1.8ZM680.44 281h1.8V290.7h-1.8ZM682.9 289h1.8V296.9h-1.8ZM685.35 296.28h1.8V303.72h-1.8ZM687.8 300.63h1.8V308.07h-1.8ZM692.71 299.89h1.8V305.84h-1.8Z" fill="#000"/>
<path d="M1.5 1V357.5" stroke="#4a4a4a" stroke-width="1" fill="none"/>
<path d="M1 1.5H876" stroke="#585858" stroke-width="1" fill="none"/>
<path d="M875.5 1V448" stroke="#505050" stroke-width="1" fill="none"/>
<path d="M1.5 360V448" stroke="#4a4a4a" stroke-width="1" fill="none"/>
<path d="M1 447.5H876" stroke="#505050" stroke-width="1" fill="none"/>
<rect x="1" y="357" width="875" height="1" fill="#eeeeee"/>
<rect x="1" y="358" width="875" height="1" fill="#c6c6c6"/>
<rect x="1" y="359" width="875" height="1" fill="#969696"/>
<rect x="1" y="360" width="875" height="1" fill="#585858"/>
<path d="M875.9 2.3h1.6M875.9 25.88h1.6M875.9 45.67h1.6M875.9 69.42h1.6M875.9 89.21h1.6M875.9 112.95h1.6M875.9 132.74h1.6M875.9 156.49h1.6M875.9 176.28h1.6M875.9 200.03h1.6M875.9 219.82h1.6M875.9 243.57h1.6M875.9 263.36h1.6M875.9 287.11h1.6M875.9 306.9h1.6M875.9 330.64h1.6M875.9 364.4h1.6M875.9 386.4h1.6M875.9 443.1h1.6" stroke="#333" stroke-width="1" fill="none"/>
<g font-family="&quot;Liberation Sans&quot;, sans-serif"><text transform="translate(878.6 4.6) scale(0.2100 0.2500)" font-size="25.6" fill="#111" stroke="#111" stroke-width="0.88">1.1900</text><text transform="translate(878.6 28.18) scale(0.2100 0.2500)" font-size="25.6" fill="#111" stroke="#111" stroke-width="0.88">1.1870</text><text transform="translate(878.6 47.97) scale(0.2100 0.2500)" font-size="25.6" fill="#111" stroke="#111" stroke-width="0.88">1.1845</text><text transform="translate(878.6 71.72) scale(0.2100 0.2500)" font-size="25.6" fill="#111" stroke="#111" stroke-width="0.88">1.1815</text><text transform="translate(878.6 91.51) scale(0.2100 0.2500)" font-size="25.6" fill="#111" stroke="#111" stroke-width="0.88">1.1790</text><text transform="translate(878.6 115.25) scale(0.2100 0.2500)" font-size="25.6" fill="#111" stroke="#111" stroke-width="0.88">1.1760</text><text transform="translate(878.6 135.04) scale(0.2100 0.2500)" font-size="25.6" fill="#111" stroke="#111" stroke-width="0.88">1.1735</text><text transform="translate(878.6 158.79) scale(0.2100 0.2500)" font-size="25.6" fill="#111" stroke="#111" stroke-width="0.88">1.1705</text><text transform="translate(878.6 178.58) scale(0.2100 0.2500)" font-size="25.6" fill="#111" stroke="#111" stroke-width="0.88">1.1680</text><text transform="translate(878.6 202.33) scale(0.2100 0.2500)" font-size="25.6" fill="#111" stroke="#111" stroke-width="0.88">1.1650</text><text transform="translate(878.6 222.12) scale(0.2100 0.2500)" font-size="25.6" fill="#111" stroke="#111" stroke-width="0.88">1.1625</text><text transform="translate(878.6 245.87) scale(0.2100 0.2500)" font-size="25.6" fill="#111" stroke="#111" stroke-width="0.88">1.1595</text><text transform="translate(878.6 265.66) scale(0.2100 0.2500)" font-size="25.6" fill="#111" stroke="#111" stroke-width="0.88">1.1570</text><text transform="translate(878.6 289.41) scale(0.2100 0.2500)" font-size="25.6" fill="#111" stroke="#111" stroke-width="0.88">1.1540</text><text transform="translate(878.6 309.2) scale(0.2100 0.2500)" font-size="25.6" fill="#111" stroke="#111" stroke-width="0.88">1.1515</text><text transform="translate(878.6 332.94) scale(0.2100 0.2500)" font-size="25.6" fill="#111" stroke="#111" stroke-width="0.88">1.1485</text><text transform="translate(877 366.7) scale(0.2100 0.2500)" font-size="25.6" fill="#111" stroke="#111" stroke-width="0.88">0.00102</text><text transform="translate(877 388.7) scale(0.2100 0.2500)" font-size="25.6" fill="#111" stroke="#111" stroke-width="0.88">0.00</text><text transform="translate(877 445.4) scale(0.2100 0.2500)" font-size="25.6" fill="#111" stroke="#111" stroke-width="0.88">-0.00241</text></g>
<g font-family="&quot;Liberation Sans&quot;, sans-serif"><rect x="876" y="48.6" width="22" height="6.8" fill="#ff0000"/><text transform="translate(878.6 54.3) scale(0.2100 0.2500)" font-size="25.6" fill="#ffecec" stroke="#ffecec" stroke-width="0.88">1.1837</text><rect x="876" y="114.3" width="22" height="6.8" fill="#ff0000"/><text transform="translate(878.6 120) scale(0.2100 0.2500)" font-size="25.6" fill="#ffecec" stroke="#ffecec" stroke-width="0.88">1.1754</text><rect x="876" y="184.1" width="22" height="6.8" fill="#ff0000"/><text transform="translate(878.6 189.8) scale(0.2100 0.2500)" font-size="25.6" fill="#ffecec" stroke="#ffecec" stroke-width="0.88">1.1666</text><rect x="876" y="249.1" width="22" height="6.8" fill="#ff0000"/><text transform="translate(878.6 254.8) scale(0.2100 0.2500)" font-size="25.6" fill="#ffecec" stroke="#ffecec" stroke-width="0.88">1.1584</text><rect x="876" y="351" width="22" height="6.8" fill="#ff0000"/><text transform="translate(878.6 356.7) scale(0.2100 0.2500)" font-size="25.6" fill="#ffecec" stroke="#ffecec" stroke-width="0.88">1.1455</text><rect x="876" y="300" width="22" height="6.5" fill="#000"/><text transform="translate(878.6 305.6) scale(0.2100 0.2500)" font-size="25.6" fill="#fff" stroke="#fff" stroke-width="0.88">1.1520</text></g>
<path d="M2.3 447.5v1.8M41.54 447.5v1.8M80.78 447.5v1.8M120.02 447.5v1.8M159.26 447.5v1.8M198.5 447.5v1.8M237.74 447.5v1.8M276.98 447.5v1.8M316.22 447.5v1.8M355.46 447.5v1.8M394.7 447.5v1.8M433.94 447.5v1.8M473.18 447.5v1.8M512.42 447.5v1.8M551.66 447.5v1.8M590.9 447.5v1.8M630.14 447.5v1.8M669.38 447.5v1.8" stroke="#333" stroke-width="1" fill="none"/>
<g font-family="&quot;Liberation Sans&quot;, sans-serif"><text transform="translate(1.3 454.8) scale(0.2225 0.2500)" font-size="25.6" fill="#111" stroke="#111" stroke-width="0.88">19 Feb 2026</text><text transform="translate(40.54 454.8) scale(0.2225 0.2500)" font-size="25.6" fill="#111" stroke="#111" stroke-width="0.88">20 Feb 03:00</text><text transform="translate(79.78 454.8) scale(0.2225 0.2500)" font-size="25.6" fill="#111" stroke="#111" stroke-width="0.88">20 Feb 19:00</text><text transform="translate(119.02 454.8) scale(0.2225 0.2500)" font-size="25.6" fill="#111" stroke="#111" stroke-width="0.88">23 Feb 11:00</text><text transform="translate(158.26 454.8) scale(0.2225 0.2500)" font-size="25.6" fill="#111" stroke="#111" stroke-width="0.88">24 Feb 03:00</text><text transform="translate(197.5 454.8) scale(0.2225 0.2500)" font-size="25.6" fill="#111" stroke="#111" stroke-width="0.88">24 Feb 19:00</text><text transform="translate(236.74 454.8) scale(0.2225 0.2500)" font-size="25.6" fill="#111" stroke="#111" stroke-width="0.88">25 Feb 11:00</text><text transform="translate(275.98 454.8) scale(0.2225 0.2500)" font-size="25.6" fill="#111" stroke="#111" stroke-width="0.88">26 Feb 03:00</text><text transform="translate(315.22 454.8) scale(0.2225 0.2500)" font-size="25.6" fill="#111" stroke="#111" stroke-width="0.88">26 Feb 19:00</text><text transform="translate(354.46 454.8) scale(0.2225 0.2500)" font-size="25.6" fill="#111" stroke="#111" stroke-width="0.88">27 Feb 11:00</text><text transform="translate(393.7 454.8) scale(0.2225 0.2500)" font-size="25.6" fill="#111" stroke="#111" stroke-width="0.88">2 Mar 03:00</text><text transform="translate(432.94 454.8) scale(0.2225 0.2500)" font-size="25.6" fill="#111" stroke="#111" stroke-width="0.88">2 Mar 19:00</text><text transform="translate(472.18 454.8) scale(0.2225 0.2500)" font-size="25.6" fill="#111" stroke="#111" stroke-width="0.88">3 Mar 11:00</text><text transform="translate(511.42 454.8) scale(0.2225 0.2500)" font-size="25.6" fill="#111" stroke="#111" stroke-width="0.88">4 Mar 03:00</text><text transform="translate(550.66 454.8) scale(0.2225 0.2500)" font-size="25.6" fill="#111" stroke="#111" stroke-width="0.88">4 Mar 19:00</text><text transform="translate(589.9 454.8) scale(0.2225 0.2500)" font-size="25.6" fill="#111" stroke="#111" stroke-width="0.88">5 Mar 11:00</text><text transform="translate(629.14 454.8) scale(0.2225 0.2500)" font-size="25.6" fill="#111" stroke="#111" stroke-width="0.88">6 Mar 03:00</text><text transform="translate(668.38 454.8) scale(0.2225 0.2500)" font-size="25.6" fill="#111" stroke="#111" stroke-width="0.88">6 Mar 19:00</text></g>
<path d="M3.7 4.9H8L5.85 7.6Z" fill="#000"/>
<g font-family="&quot;Liberation Sans&quot;, sans-serif"><text transform="translate(11 8.95) scale(0.2450 0.2500)" font-size="23.2" fill="#111" stroke="#111" stroke-width="0.88">EURUSD,H1</text><text transform="translate(4.4 367.6) scale(0.2325 0.2500)" font-size="24.8" fill="#111" stroke="#111" stroke-width="0.88">MACD(14,22,3) -0.00124 -0.00116</text></g></svg>
</body></html>
